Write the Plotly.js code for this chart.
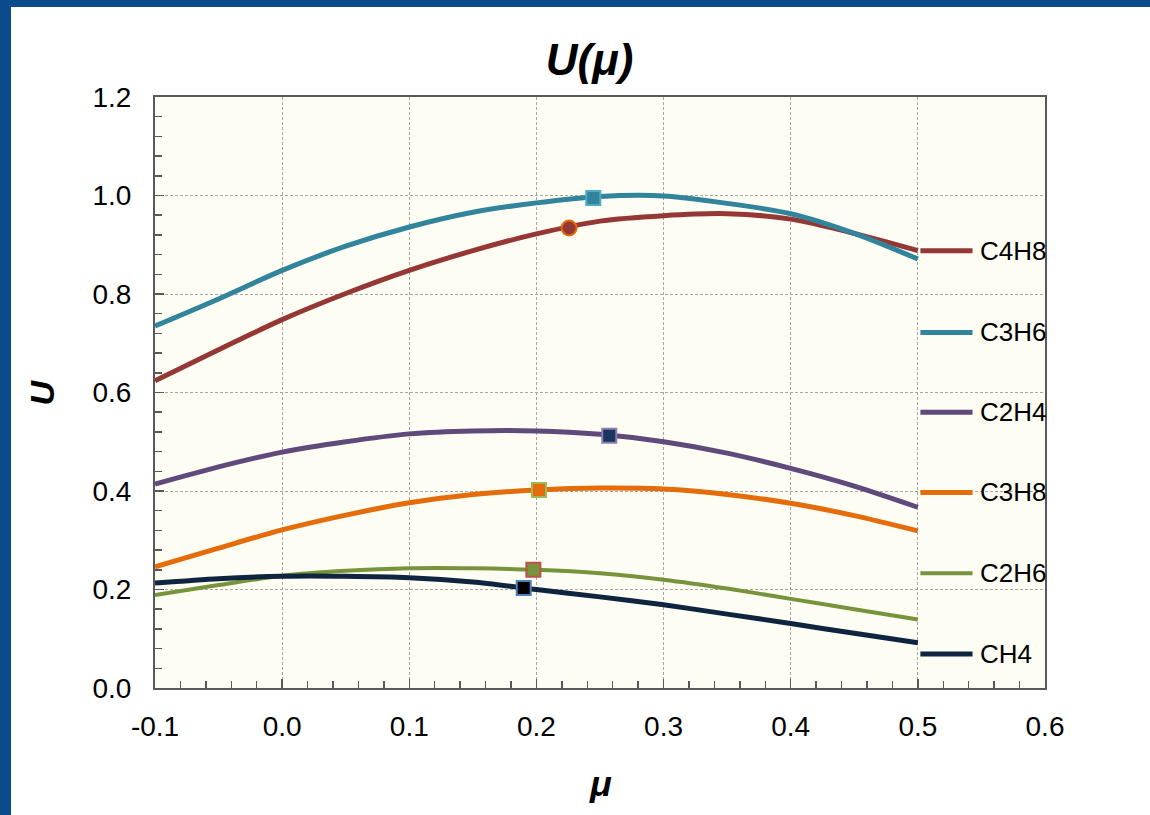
<!DOCTYPE html>
<html>
<head>
<meta charset="utf-8">
<script src="https://cdn.plot.ly/plotly-3.0.1.min.js"></script>
<style>
  html, body { margin: 0; padding: 0; background: #0b4a8b; width: 1150px; height: 815px; overflow: hidden; }
  #chart { position: absolute; left: 11px; top: 7px; width: 1139px; height: 808px; background: #ffffff; }
</style>
</head>
<body>
<div id="chart"></div>
<script>
// ---- data ----
const mu = [-0.1, -0.05, 0.0, 0.05, 0.1, 0.15, 0.2, 0.25, 0.3, 0.35, 0.4, 0.45, 0.5];

const seriesNames = ["C4H8", "C3H6", "C2H4", "C3H8", "C2H6", "CH4"];

const uC4H8 = [0.624, 0.687, 0.748, 0.801, 0.848, 0.888, 0.922, 0.948, 0.959, 0.963, 0.952, 0.923, 0.888];
const uC3H6 = [0.735, 0.790, 0.848, 0.897, 0.936, 0.966, 0.985, 0.998, 0.999, 0.984, 0.963, 0.923, 0.871];
const uC2H4 = [0.414, 0.449, 0.479, 0.500, 0.516, 0.522, 0.522, 0.515, 0.500, 0.477, 0.446, 0.410, 0.367];
const uC3H8 = [0.246, 0.284, 0.321, 0.351, 0.376, 0.393, 0.402, 0.406, 0.404, 0.393, 0.375, 0.350, 0.319];
const uC2H6 = [0.189, 0.209, 0.228, 0.238, 0.243, 0.243, 0.240, 0.233, 0.220, 0.202, 0.181, 0.160, 0.139];
const uCH4  = [0.213, 0.222, 0.227, 0.227, 0.224, 0.215, 0.200, 0.185, 0.169, 0.150, 0.131, 0.111, 0.092];

// highlighted points (mu, U) per series
const markMu = [0.2257, 0.2447, 0.2573, 0.202, 0.1976, 0.190];
const markU  = [0.934, 0.995, 0.512, 0.402, 0.240, 0.203];

// label lines on the right side
const labelMu = [0.502, 0.543];
const labelTextMu = 0.547;
const labelU = [0.888, 0.722, 0.560, 0.397, 0.233, 0.069];

// tick labels
const xTickVals = [-0.1, 0.0, 0.1, 0.2, 0.3, 0.4, 0.5, 0.6];
const xTickText = ["-0.1", "0.0", "0.1", "0.2", "0.3", "0.4", "0.5", "0.6"];
const yTickVals = [0.0, 0.2, 0.4, 0.6, 0.8, 1.0, 1.2];
const yTickText = ["0.0", "0.2", "0.4", "0.6", "0.8", "1.0", "1.2"];

// ---- styles ----
const lineColors = ["#953735", "#31849b", "#604a7b", "#e46c0a", "#77933c", "#0f243e"];
const lineWidths = [5, 5, 5, 5, 4, 5];
const markSymbols = ["circle", "square", "square", "square", "square", "square"];
const markFill = ["#953735", "#31849b", "#17375e", "#e46c0a", "#77933c", "#000000"];
const markEdge = ["#e46c0a", "#4bacc6", "#8f7bb5", "#9bbb59", "#c0504d", "#4f81bd"];
const markSize = [15, 14, 14, 14, 14, 14];

const allU = [uC4H8, uC3H6, uC2H4, uC3H8, uC2H6, uCH4];
const FONT = "Liberation Sans, Arial, sans-serif";

const traces = [];
for (let i = 0; i < seriesNames.length; i++) {
  traces.push({
    x: mu, y: allU[i], type: "scatter", mode: "lines",
    name: seriesNames[i], showlegend: false, hoverinfo: "skip",
    line: { color: lineColors[i], width: lineWidths[i], shape: "spline", smoothing: 0.8 }
  });
}
for (let i = 0; i < seriesNames.length; i++) {
  traces.push({
    x: labelMu, y: [labelU[i], labelU[i]], type: "scatter", mode: "lines",
    showlegend: false, hoverinfo: "skip",
    line: { color: lineColors[i], width: lineWidths[i] }
  });
}
for (let i = 0; i < seriesNames.length; i++) {
  traces.push({
    x: [markMu[i]], y: [markU[i]], type: "scatter", mode: "markers",
    showlegend: false, hoverinfo: "skip",
    marker: { symbol: markSymbols[i], size: markSize[i], color: markFill[i],
              line: { color: markEdge[i], width: 2 } }
  });
}

const annotations = [];
for (let i = 0; i < seriesNames.length; i++) {
  annotations.push({
    x: labelTextMu, y: labelU[i], xref: "x", yref: "y",
    text: seriesNames[i], showarrow: false, xanchor: "left", yanchor: "middle",
    font: { family: FONT, size: 26, color: "#000000" }
  });
}
annotations.push({
  xref: "paper", yref: "paper", x: -0.127, y: 0.5,
  text: "<b><i>U</i></b>", showarrow: false, textangle: -90,
  xanchor: "center", yanchor: "middle",
  font: { family: FONT, size: 34, color: "#000000" }
});
annotations.push({
  xref: "paper", yref: "paper", x: 0.501, y: -0.161,
  text: "<b><i>μ</i></b>", showarrow: false,
  xanchor: "center", yanchor: "middle",
  font: { family: FONT, size: 36, color: "#000000" }
});

const axisCommon = {
  showline: true, linecolor: "#595959", linewidth: 2, mirror: true,
  ticks: "inside", ticklen: 9, tickwidth: 1.5, tickcolor: "#595959",
  showgrid: true, gridcolor: "#a6a6a6", gridwidth: 1, griddash: "3px,2px",
  zeroline: false, tickmode: "array",
  tickfont: { family: FONT, size: 28, color: "#000000" }
};

const layout = {
  width: 1139, height: 808,
  margin: { l: 144, r: 105, t: 90, b: 127 },
  paper_bgcolor: "#ffffff", plot_bgcolor: "#fdfdf3",
  title: {
    text: "<b><i>U(μ)</i></b>", xref: "container", yref: "container",
    x: 0.508, y: 0.935, xanchor: "center", yanchor: "middle",
    font: { family: FONT, size: 44, color: "#000000" }
  },
  xaxis: Object.assign({}, axisCommon, {
    range: [-0.1, 0.6], tickvals: xTickVals, ticktext: xTickText, ticklabelstandoff: 12,
    minor: { dtick: 0.02, tick0: 0, ticks: "inside", ticklen: 7, tickcolor: "#595959", tickwidth: 1.5, showgrid: false }
  }),
  yaxis: Object.assign({}, axisCommon, {
    range: [0, 1.2], tickvals: yTickVals, ticktext: yTickText, ticklabelstandoff: 16,
    minor: { dtick: 0.04, tick0: 0, ticks: "inside", ticklen: 7, tickcolor: "#595959", tickwidth: 1.5, showgrid: false }
  }),
  annotations: annotations,
  showlegend: false
};

Plotly.newPlot("chart", traces, layout, { displayModeBar: false, staticPlot: true });
</script>
</body>
</html>
